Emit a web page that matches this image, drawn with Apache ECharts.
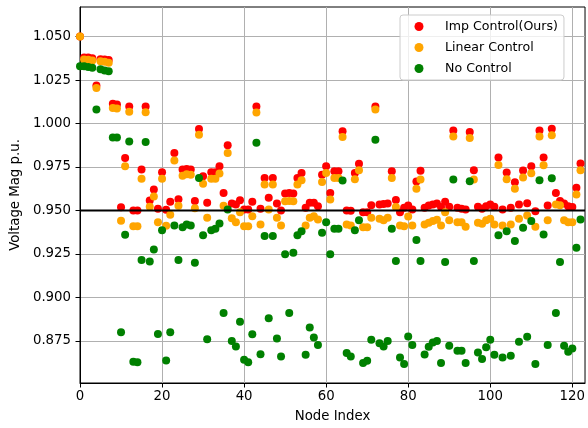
<!DOCTYPE html>
<html><head><meta charset="utf-8">
<script src="https://cdn.jsdelivr.net/npm/echarts@6/dist/echarts.min.js"></script>
<style>html,body{margin:0;padding:0;background:#fff}#c{width:588px;height:428px}</style>
</head><body><div id="c"></div>
<script>
// Voltage magnitude (p.u.) per node index 0..122
const impControl = [
1.050,1.038,1.038,1.0375,1.0218,1.037,1.0368,1.0365,1.0113,1.0110,
0.9518,0.9802,1.0098,0.9500,0.9500,0.9735,1.0098,0.9557,0.9620,0.9510,
0.9720,0.9504,0.9550,0.9831,0.9565,0.9735,0.9738,0.9735,0.9555,0.9968,
0.9697,0.9544,0.9720,0.9720,0.9754,0.9600,0.9875,0.9540,0.9535,0.9559,
0.9505,0.9506,0.9550,1.0098,0.9510,0.9687,0.9573,0.9687,0.9540,0.9500,
0.9597,0.9600,0.9597,0.9687,0.9716,0.9515,0.9544,0.9544,0.9525,0.9706,
0.9754,0.9601,0.9726,0.9726,0.9955,0.9500,0.9498,0.9716,0.9768,0.9490,
0.9490,0.9530,1.0098,0.9535,0.9537,0.9540,0.9725,0.9560,0.9490,0.9515,
0.9529,0.9506,0.9666,0.9728,0.9515,0.9529,0.9535,0.9540,0.9520,0.9550,
0.9521,0.9960,0.9515,0.9510,0.9505,0.9951,0.9731,0.9521,0.9510,0.9525,
0.9535,0.9521,0.9805,0.9506,0.9718,0.9515,0.9663,0.9535,0.9730,0.9541,
0.9755,0.9496,0.9960,0.9805,0.9529,0.9970,0.9601,0.9555,0.9540,0.9525,
0.9520,0.9630,0.9770];
const linearControl = [
1.050,1.0368,1.0366,1.0362,1.0204,1.0358,1.0355,1.0350,1.0089,1.0087,
0.9441,0.9754,1.0068,0.9410,0.9409,0.9682,1.0065,0.9521,0.9580,0.9433,
0.9682,0.9412,0.9475,0.9787,0.9527,0.9700,0.9708,0.9706,0.9513,0.9936,
0.9654,0.9458,0.9682,0.9682,0.9712,0.9527,0.9830,0.9455,0.9433,0.9490,
0.9410,0.9410,0.9467,1.0064,0.9420,0.9649,0.9505,0.9649,0.9458,0.9414,
0.9553,0.9555,0.9553,0.9650,0.9674,0.9414,0.9458,0.9467,0.9448,0.9664,
0.9716,0.9563,0.9687,0.9687,0.9923,0.9420,0.9414,0.9680,0.9731,0.9403,
0.9403,0.9458,1.0080,0.9452,0.9444,0.9458,0.9687,0.9520,0.9414,0.9410,
0.9465,0.9414,0.9625,0.9678,0.9420,0.9430,0.9439,0.9446,0.9414,0.9490,
0.9444,0.9926,0.9433,0.9433,0.9407,0.9917,0.9678,0.9430,0.9423,0.9444,
0.9452,0.9420,0.9762,0.9414,0.9680,0.9420,0.9625,0.9452,0.9690,0.9471,
0.9714,0.9406,0.9926,0.9760,0.9444,0.9932,0.9535,0.9530,0.9444,0.9433,
0.9433,0.9592,0.9731];
const noControl = [
1.033,1.033,1.0325,1.032,1.008,1.0312,1.0305,1.030,0.992,0.992,
0.880,0.936,0.9897,0.863,0.8627,0.9215,0.9894,0.9206,0.9276,0.879,
0.9387,0.8638,0.880,0.9414,0.9215,0.9404,0.942,0.9414,0.920,0.9687,
0.9358,0.876,0.9387,0.9395,0.9425,0.891,0.9506,0.875,0.8718,0.886,
0.8642,0.8627,0.8789,0.989,0.8674,0.9353,0.888,0.9353,0.8764,0.8661,
0.9248,0.891,0.9257,0.9357,0.9381,0.867,0.8827,0.877,0.8726,0.9372,
0.9433,0.9248,0.9395,0.9395,0.9672,0.868,0.8661,0.9387,0.9444,0.8623,
0.8636,0.8756,0.9907,0.8737,0.8718,0.875,0.9395,0.9209,0.8655,0.8617,
0.8776,0.8726,0.933,0.9209,0.8672,0.8716,0.8741,0.875,0.8623,0.9204,
0.8722,0.9678,0.8693,0.8693,0.8623,0.9668,0.9209,0.8684,0.8646,0.8713,
0.8756,0.867,0.9358,0.8655,0.9381,0.8665,0.9324,0.8745,0.9401,0.8774,
0.9439,0.8617,0.9674,0.9362,0.8726,0.9685,0.891,0.9204,0.8722,0.8688,
0.8707,0.9286,0.9448];
const seriesNames = ['Imp Control(Ours)', 'Linear Control', 'No Control'];
const xTicks = [0, 20, 40, 60, 80, 100, 120];
const yTicks = [0.875, 0.900, 0.925, 0.950, 0.975, 1.000, 1.025, 1.050];
const refLine = 0.95;
const xRange = [0, 123.1];
const yRange = [0.8508, 1.067];

const toPts = arr => arr.map((v, i) => [i, v]);
const FONT = 'DejaVu Sans';
const chart = echarts.init(document.getElementById('c'), null, {renderer: 'canvas'});
const sym = 8;
chart.setOption({
  animation: false,
  backgroundColor: '#fff',
  grid: {left: 80, right: 2, top: 7, bottom: 43, show: true, borderColor: '#000', borderWidth: 1, backgroundColor: 'transparent'},
  legend: {
    orient: 'vertical', left: 400, top: 15,
    data: seriesNames.map(n => ({name: n, icon: 'circle'})),
    itemWidth: 9, itemHeight: 9, itemGap: 6,
    padding: [4, 6, 4, 14.5],
    backgroundColor: 'rgba(255,255,255,0.8)', borderColor: '#cccccc', borderWidth: 1, borderRadius: 3,
    textStyle: {fontFamily: FONT, fontSize: 12.6, color: '#000', lineHeight: 15, padding: [0, 0, 0, 16.5]}
  },
  xAxis: {
    type: 'value', min: xRange[0], max: xRange[1],
    name: 'Node Index', nameLocation: 'middle', nameGap: 27,
    nameTextStyle: {fontFamily: FONT, fontSize: 13.3, color: '#000'},
    axisLine: {lineStyle: {color: '#000', width: 1}},
    axisTick: {show: true, length: 4.5, lineStyle: {color: '#000'}, customValues: xTicks},
    axisLabel: {fontFamily: FONT, fontSize: 13.3, color: '#000', margin: 7, customValues: xTicks, formatter: v => String(v)},
    splitLine: {show: true, lineStyle: {color: '#b0b0b0', width: 1}}
  },
  yAxis: {
    type: 'value', min: yRange[0], max: yRange[1],
    name: 'Voltage Mag p.u.', nameLocation: 'middle', nameGap: 57,
    nameTextStyle: {fontFamily: FONT, fontSize: 13.3, color: '#000'},
    axisLine: {show: true, lineStyle: {color: '#000', width: 1}},
    axisTick: {show: true, length: 4.5, lineStyle: {color: '#000'}, customValues: yTicks},
    axisLabel: {fontFamily: FONT, fontSize: 13.3, color: '#000', margin: 9, customValues: yTicks, formatter: v => v.toFixed(3)},
    splitLine: {show: true, lineStyle: {color: '#b0b0b0', width: 1}}
  },
  series: [
    {name: seriesNames[0], type: 'scatter', data: toPts(impControl), symbolSize: sym, itemStyle: {color: '#ff0000', opacity: 1}, z: 2},
    {name: seriesNames[1], type: 'scatter', data: toPts(linearControl), symbolSize: sym, itemStyle: {color: '#ffa500', opacity: 1}, z: 3},
    {name: seriesNames[2], type: 'scatter', data: toPts(noControl), symbolSize: sym, itemStyle: {color: '#008000', opacity: 1}, z: 4},
    {name: 'ref', type: 'line', data: [[xRange[0], refLine], [xRange[1], refLine]], showSymbol: false, symbol: 'none',
      lineStyle: {color: '#000', width: 1.8}, z: 6, silent: true}
  ]
});
</script>
</body></html>
